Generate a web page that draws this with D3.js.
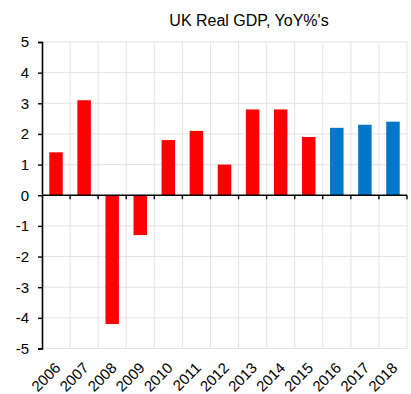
<!DOCTYPE html>
<html>
<head>
<meta charset="utf-8">
<script src="https://cdn.jsdelivr.net/npm/d3@7"></script>
<style>
  body { margin: 0; background: #fff; }
  text { font-family: "Liberation Sans", Arial, sans-serif; }
</style>
</head>
<body>
<svg id="chart" width="411" height="394"></svg>
<script>
// data
const years = ["2006", "2007", "2008", "2009", "2010", "2011", "2012",
               "2013", "2014", "2015", "2016", "2017", "2018"];
const growth = [1.4, 3.1, -4.2, -1.3, 1.8, 2.1, 1.0, 2.8, 2.8, 1.9, 2.2, 2.3, 2.4];
const forecast = [false, false, false, false, false, false, false, false, false, false, true, true, true];
const yTicks = [-5, -4, -3, -2, -1, 0, 1, 2, 3, 4, 5];

const margin = { top: 42, right: 4, bottom: 45, left: 42 }
const width = 411, height = 394
const svg = d3.select("#chart")

const x = d3.scaleBand()
    .domain(years)
    .range([margin.left, width - margin.right])
    .paddingInner(0.52)
    .paddingOuter(0.26)

const y = d3.scaleLinear()
    .domain([-5, 5])
    .range([height - margin.bottom - 0.5, margin.top])

// gridlines
const step = x.step()
const x0 = margin.left, x1 = width - margin.right
svg.append("g").selectAll("line")
    .data(yTicks)
    .enter().append("line")
    .attr("x1", x0).attr("x2", x1)
    .attr("y1", d => y(d)).attr("y2", d => y(d))
    .attr("stroke", "#e3e3e3")

svg.append("g").selectAll("line")
    .data(d3.range(1, years.length + 1))
    .enter().append("line")
    .attr("x1", i => x0 + i * step).attr("x2", i => x0 + i * step)
    .attr("y1", y(5)).attr("y2", y(-5))
    .attr("stroke", "#e3e3e3")

// bars
svg.append("g").selectAll("rect")
    .data(years)
    .enter().append("rect")
    .attr("x", d => x(d))
    .attr("width", x.bandwidth())
    .attr("y", (d, i) => y(Math.max(0, growth[i])))
    .attr("height", (d, i) => Math.abs(y(growth[i]) - y(0)))
    .attr("fill", (d, i) => forecast[i] ? "#0077c8" : "#ff0000")

// y axis
svg.append("g")
    .attr("transform", "translate(" + x0 + ",0)")
    .call(d3.axisLeft(y).tickValues(yTicks).tickSize(4).tickPadding(9).tickFormat(d => String(d)))
    .call(g => g.select(".domain").attr("stroke-width", 1.6))
    .call(g => g.selectAll(".tick line").attr("stroke-width", 1.4))
    .call(g => g.selectAll("text").attr("font-size", "15px").attr("fill", "#000"))

// zero line with ticks at category boundaries
svg.append("line")
    .attr("x1", x0).attr("x2", x1)
    .attr("y1", y(0)).attr("y2", y(0))
    .attr("stroke", "#000").attr("stroke-width", 1.6)
svg.append("g").selectAll("line")
    .data(d3.range(1, years.length + 1))
    .enter().append("line")
    .attr("x1", i => x0 + i * step).attr("x2", i => x0 + i * step)
    .attr("y1", y(0)).attr("y2", y(0) + 4)
    .attr("stroke", "#000").attr("stroke-width", 1.4)

// x labels
svg.append("g").selectAll("text")
    .data(years)
    .enter().append("text")
    .attr("transform", d => "translate(" + (x(d) + x.bandwidth() / 2 - 2) + "," + (y(-5) + 13) + ") rotate(-45)")
    .attr("text-anchor", "end")
    .attr("dy", "0.7em")
    .attr("font-size", "15px")
    .text(d => d)

// title
svg.append("text")
    .attr("x", 249)
    .attr("y", 26)
    .attr("text-anchor", "middle")
    .attr("font-size", "16px")
    .text("UK Real GDP, YoY%'s")
</script>
</body>
</html>
